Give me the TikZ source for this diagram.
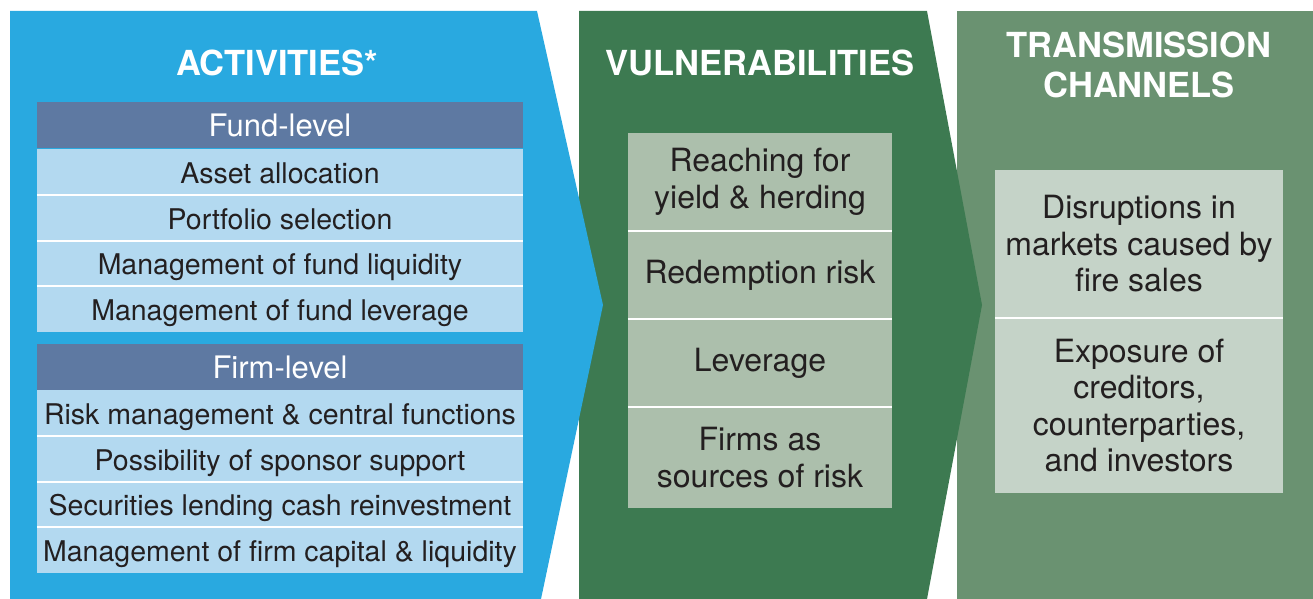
\documentclass[tikz,border=0pt]{standalone}
\usepackage{fontspec}
\setmainfont{TeX Gyre Heros}
\definecolor{actblue}{HTML}{29A9E0}
\definecolor{headblue}{HTML}{5E79A2}
\definecolor{rowblue}{HTML}{B3D9F0}
\definecolor{vulgreen}{HTML}{3D7A51}
\definecolor{vulbox}{HTML}{ACBFAC}
\definecolor{trgreen}{HTML}{6A9271}
\definecolor{trbox}{HTML}{C5D3C8}
\definecolor{txt}{HTML}{231F20}
\tikzset{
  paneltitle/.style={text=white,font=\fontsize{34.5}{40}\selectfont\bfseries,align=center},
  headrow/.style={fill=headblue,text=white,minimum width=486pt,minimum height=45.75pt,inner sep=0pt,font=\fontsize{31}{34}\selectfont},
  actrow/.style={fill=rowblue,text=txt,minimum width=486pt,minimum height=45.75pt,inner sep=0pt,text height=23pt,text depth=0pt,font=\fontsize{28.5}{32}\selectfont},
  boxrow/.style={text=txt,inner sep=0pt,align=center,font=\fontsize{32}{36.5}\selectfont},
  sep/.style={white,line width=2pt}
}
\begin{document}
\begin{tikzpicture}[x=1pt,y=-1pt]
\useasboundingbox (0,0) rectangle (1313,599);
% the three panels
\fill[trgreen] (957,11) -- (1313,11) -- (1313,599) -- (957,599) -- cycle;
\fill[vulgreen] (579,11) -- (927,11) -- (982,305) -- (927,599) -- (579,599) -- cycle;
\fill[actblue] (10,11) -- (537,11) -- (603,305) -- (541,599) -- (10,599) -- cycle;
\node[paneltitle] (acttitle) at (277,63) {ACTIVITIES*};
\node[paneltitle] (vultitle) at (760,63) {VULNERABILITIES};
\node[paneltitle] (trtitle) at (1139,65) {TRANSMISSION\\CHANNELS};
% activities
\begin{scope}
\node[headrow] (fundhead) at (280,125) {Fund-level};
\foreach \i/\t in {1/Asset allocation,2/Portfolio selection,3/Management of fund liquidity,4/Management of fund leverage}
  \node[actrow] (fund\i) at (280,126.125+45.75*\i) {\t};
\foreach \i in {1,2,3} \draw[sep] (fund\i.south west) -- (fund\i.south east);
\end{scope}
\begin{scope}[shift={(0,241)}]
\node[headrow] (firmhead) at (280,126) {Firm-level};
\foreach \i/\t in {1/Risk management \& central functions,2/Possibility of sponsor support,3/Securities lending cash reinvestment,4/Management of firm capital \& liquidity}
  \node[actrow] (firm\i) at (280,126.125+45.75*\i) {\t};
\foreach \i in {1,2,3} \draw[sep] (firm\i.south west) -- (firm\i.south east);
\end{scope}
% vulnerabilities
\foreach \i/\y/\h/\t in {1/182/98/{Reaching for\\yield \& herding},2/275/88/{Redemption risk},3/363/88/{Leverage},4/457.5/101/{Firms as\\sources of risk}}
  \node[boxrow,fill=vulbox,minimum width=264pt,minimum height=\h pt] (vul\i) at (760,\y) {\t};
\foreach \i in {1,2,3} \draw[sep] (vul\i.south west) -- (vul\i.south east);
% transmission channels
\foreach \i/\y/\h/\t in {1/244/148/{Disruptions in\\markets caused by\\fire sales},2/405.5/175/{Exposure of\\creditors,\\counterparties,\\and investors}}
  \node[boxrow,fill=trbox,minimum width=288pt,minimum height=\h pt] (tr\i) at (1139,\y) {\t};
\draw[sep] (tr1.south west) -- (tr1.south east);
\end{tikzpicture}
\end{document}
